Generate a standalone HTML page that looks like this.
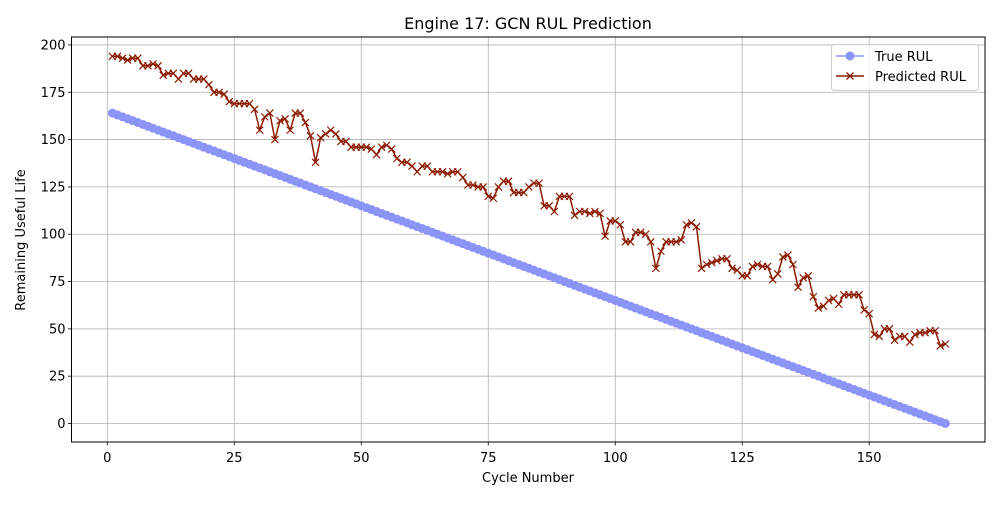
<!DOCTYPE html>
<html><head><meta charset="utf-8"><style>
body{margin:0;background:#fff;}
svg text{font-family:"DejaVu Sans","Liberation Sans",sans-serif;fill:#000;}
</style></head><body>
<svg id="chart" width="1000" height="500" xmlns="http://www.w3.org/2000/svg">
<rect width="1000" height="500" fill="#fff"/>
<g id="grid"></g><g id="series"></g><g id="axes"></g>
<text x="528" y="29" font-size="16" text-anchor="middle">Engine 17: GCN RUL Prediction</text>
<text x="528" y="482" font-size="13" text-anchor="middle">Cycle Number</text>
<text transform="translate(25,240) rotate(-90)" font-size="13" text-anchor="middle">Remaining Useful Life</text>
<g>
<rect x="831.5" y="44.5" width="147" height="46" rx="3" fill="#fff" fill-opacity="0.8" stroke="#ccc"/>
<line x1="836" y1="56" x2="864" y2="56" stroke="#8c94f7" stroke-width="1.5"/>
<circle cx="850" cy="56" r="4.5" fill="#8c94f7"/>
<text x="875" y="61" font-size="13">True RUL</text>
<line x1="836" y1="76" x2="864" y2="76" stroke="#8b1a00" stroke-width="1.5"/>
<path d="M846.5 72.5l7 7M853.5 72.5l-7 7" stroke="#8b1a00" stroke-width="1.3"/>
<text x="875" y="81" font-size="13">Predicted RUL</text>
</g>
</svg>
<script>
const cycles = Array.from({length:165},(_,i)=>i+1);
const trueRul = [164,163,162,161,160,159,158,157,156,155,154,153,152,151,150,149,148,147,146,145,144,143,142,141,140,139,138,137,136,135,134,133,132,131,130,129,128,127,126,125,124,123,122,121,120,119,118,117,116,115,114,113,112,111,110,109,108,107,106,105,104,103,102,101,100,99,98,97,96,95,94,93,92,91,90,89,88,87,86,85,84,83,82,81,80,79,78,77,76,75,74,73,72,71,70,69,68,67,66,65,64,63,62,61,60,59,58,57,56,55,54,53,52,51,50,49,48,47,46,45,44,43,42,41,40,39,38,37,36,35,34,33,32,31,30,29,28,27,26,25,24,23,22,21,20,19,18,17,16,15,14,13,12,11,10,9,8,7,6,5,4,3,2,1,0];
const predRul = [194,194,193,192,193,193,189,189,190,189,184,185,185,182,185,185,182,182,182,179,175,175,174,170,169,169,169,169,166,155,162,164,150,160,161,155,164,164,159,152,138,151,153,155,153,149,149,146,146,146,146,145,142,146,147,145,140,138,138,136,133,136,136,133,133,133,132,133,133,130,126,126,125,125,120,119,125,128,128,122,122,122,125,127,127,115,115,112,120,120,120,110,112,112,111,112,111,99,107,107,105,96,96,101,101,100,96,82,91,96,96,96,97,105,106,104,82,84,85,86,87,87,82,81,78,78,83,84,83,83,76,79,88,89,84,72,77,78,67,61,62,65,66,63,68,68,68,68,60,58,47,46,50,50,44,46,46,43,47,48,48,49,49,41,42];
const xTicks = [0,25,50,75,100,125,150];
const yTicks = [0,25,50,75,100,125,150,175,200];
const L=71.5,R=985,T=37,B=442, X0=-7.05,X1=172.8,Y0=-9.78,Y1=204.2;
const sx=v=>L+(v-X0)/(X1-X0)*(R-L), sy=v=>B-(v-Y0)/(Y1-Y0)*(B-T);
const NS='http://www.w3.org/2000/svg';
function mk(tag,parent,attrs){const e=document.createElementNS(NS,tag);for(const k in attrs)e.setAttribute(k,attrs[k]);parent.appendChild(e);return e;}
const grid=document.getElementById('grid'),series=document.getElementById('series'),axes=document.getElementById('axes');
xTicks.forEach(t=>{const x=sx(t);
 const g=mk('line',grid,{x1:x,x2:x,y1:T,y2:B,stroke:'#b0b0b0','stroke-width':0.8});
 
 mk('line',axes,{x1:x,x2:x,y1:B,y2:B+3.5,stroke:'#000','stroke-width':0.8});
 const tx=mk('text',axes,{x:x,y:B+20,'font-size':13,'text-anchor':'middle'});tx.textContent=t;
 });
yTicks.forEach(t=>{const y=sy(t);
 const g=mk('line',grid,{x1:L,x2:R,y1:y,y2:y,stroke:'#b0b0b0','stroke-width':0.8});
 
 mk('line',axes,{x1:L-3.5,x2:L,y1:y,y2:y,stroke:'#000','stroke-width':0.8});
 const tx=mk('text',axes,{x:L-6,y:y+4.5,'font-size':13,'text-anchor':'end'});tx.textContent=t;
 });
const frame=mk('rect',axes,{x:L,y:T,width:R-L,height:B-T,fill:'none',stroke:'#000','stroke-width':1});

const tl=mk('polyline',series,{points:cycles.map((c,i)=>sx(c)+','+sy(trueRul[i])).join(' '),fill:'none',stroke:'#8c94f7','stroke-width':1.5});

cycles.forEach((c,i)=>{const p=mk('circle',series,{cx:sx(c),cy:sy(trueRul[i]),r:4.5,fill:'#8c94f7'});
 });
const pl=mk('polyline',series,{points:cycles.map((c,i)=>sx(c)+','+sy(predRul[i])).join(' '),fill:'none',stroke:'#8b1a00','stroke-width':1.5});

cycles.forEach((c,i)=>{const x=sx(c),y=sy(predRul[i]);
 const p=mk('path',series,{d:`M${x-3.5} ${y-3.5}l7 7M${x+3.5} ${y-3.5}l-7 7`,stroke:'#8b1a00','stroke-width':1.2});
 });
</script>
</body></html>
